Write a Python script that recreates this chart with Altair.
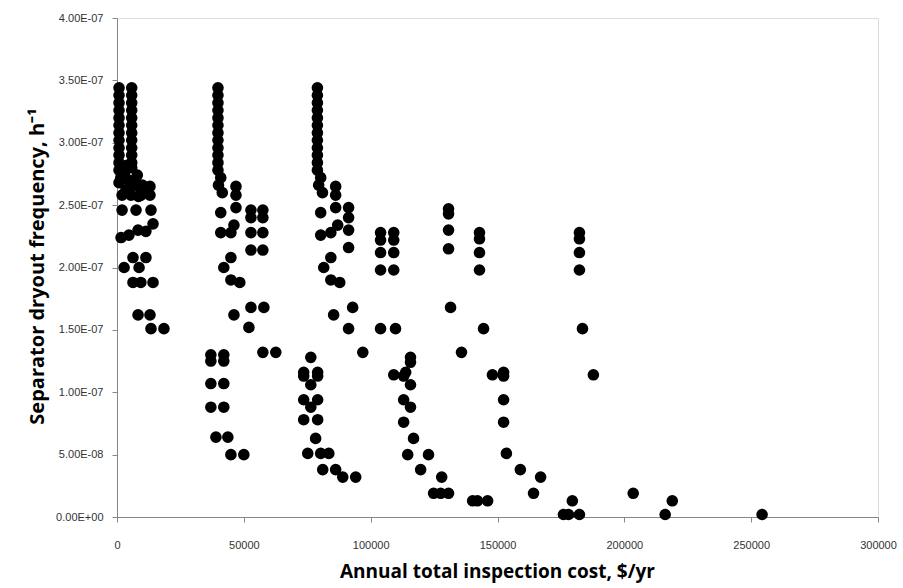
import altair as alt
import pandas as pd

# frequencies in units of 1e-7 per hour, costs in $/yr
cost_a = [800, 800, 800, 800, 800, 800, 800, 800, 800, 800, 800,
          5800, 5800, 5800, 5800, 5800, 5800, 5800, 5800, 5800, 5800, 5800,
          800, 3000, 5800, 8000, 800, 3500, 6500, 9000, 2000, 5500, 8500, 10500,
          1500, 4500, 7000, 10000, 4000, 9500,
          13000, 13000,
          2000, 7500, 13400,
          1600, 4700, 8300, 11400, 14200,
          2800, 6300, 8700, 11400,
          6300, 9400, 14200,
          8300, 13000,
          13400, 18500]
freq_a = [3.44, 3.38, 3.32, 3.26, 3.20, 3.14, 3.08, 3.02, 2.96, 2.90, 2.84,
          3.44, 3.38, 3.32, 3.26, 3.20, 3.14, 3.08, 3.02, 2.96, 2.90, 2.84,
          2.78, 2.76, 2.80, 2.74, 2.68, 2.62, 2.66, 2.64, 2.58, 2.58, 2.57, 2.60,
          2.72, 2.70, 2.70, 2.66, 2.82, 2.58,
          2.65, 2.58,
          2.46, 2.46, 2.46,
          2.24, 2.26, 2.30, 2.29, 2.35,
          2.00, 2.08, 2.00, 2.08,
          1.88, 1.88, 1.88,
          1.62, 1.62,
          1.51, 1.51]

cost_b = [39800, 39800, 39800, 39800, 39800, 39800, 39800, 39800, 39800, 39800, 39800,
          39800, 40900, 40000, 41500,
          46900, 46900,
          40900, 46900,
          52800, 57500, 52800, 57500, 52800, 57500, 52800, 57500,
          46100, 44900, 40900,
          44900, 42100,
          44900, 48400,
          52800, 57900,
          46100,
          52000,
          57500, 62600,
          37000, 42100, 37000, 42100,
          37000, 42100,
          37000, 42100,
          39000, 43700,
          44900, 50000]
freq_b = [3.44, 3.38, 3.32, 3.26, 3.20, 3.14, 3.08, 3.02, 2.96, 2.90, 2.84,
          2.78, 2.72, 2.66, 2.60,
          2.65, 2.58,
          2.44, 2.48,
          2.46, 2.46, 2.40, 2.40, 2.28, 2.28, 2.14, 2.14,
          2.34, 2.28, 2.28,
          2.08, 2.00,
          1.90, 1.88,
          1.68, 1.68,
          1.62,
          1.52,
          1.32, 1.32,
          1.30, 1.30, 1.25, 1.25,
          1.07, 1.07,
          0.88, 0.88,
          0.64, 0.64,
          0.50, 0.50]

cost_c = [79000, 79000, 79000, 79000, 79000, 79000, 79000, 79000, 79000, 79000, 79000,
          79000, 80300, 79500, 81000,
          86200, 86200,
          80300, 86200, 91300, 91300,
          87000, 84300, 80300, 91300, 91300,
          103900, 109100, 103900, 109100, 103900, 109100, 103900, 109100,
          84300, 81500,
          84300, 87800,
          92900,
          85400,
          91300,
          103900, 109800,
          96900,
          76400,
          73600, 79100, 73600, 79100,
          76400,
          73600, 79100, 76400,
          73600, 79100,
          78300,
          75200, 80300, 83500,
          81100, 86200, 89000, 94100]
freq_c = [3.44, 3.38, 3.32, 3.26, 3.20, 3.14, 3.08, 3.02, 2.96, 2.90, 2.84,
          2.78, 2.72, 2.66, 2.60,
          2.65, 2.58,
          2.44, 2.48, 2.48, 2.40,
          2.34, 2.28, 2.26, 2.30, 2.16,
          2.28, 2.28, 2.22, 2.22, 2.12, 2.12, 1.98, 1.98,
          2.08, 2.00,
          1.90, 1.88,
          1.68,
          1.62,
          1.51,
          1.51, 1.51,
          1.32,
          1.28,
          1.16, 1.16, 1.13, 1.13,
          1.06,
          0.94, 0.94, 0.88,
          0.78, 0.78,
          0.63,
          0.51, 0.51, 0.51,
          0.38, 0.38, 0.32, 0.32]

cost_d = [115700, 115700, 109100, 113800, 113000, 115700, 113000, 115700, 113000,
          116900, 114600, 122800, 119700, 128000, 124800, 127600, 130700]
freq_d = [1.28, 1.24, 1.14, 1.16, 1.13, 1.06, 0.94, 0.88, 0.76,
          0.63, 0.50, 0.50, 0.38, 0.32, 0.19, 0.19, 0.19]

cost_e = [130700, 130700, 130700, 130700, 131500, 135800,
          142900, 142900, 142900, 142900, 144500,
          148000, 152400, 152400, 152400, 152400, 153500,
          159000, 164200, 167000, 140200, 142100, 146100]
freq_e = [2.47, 2.43, 2.30, 2.15, 1.68, 1.32,
          2.28, 2.23, 2.12, 1.98, 1.51,
          1.14, 1.16, 1.13, 0.94, 0.76, 0.51,
          0.38, 0.19, 0.32, 0.13, 0.13, 0.13]

cost_f = [182300, 182300, 182300, 182300, 183500, 187800, 179500,
          176000, 178000, 182300, 203500, 218900, 216100, 254300]
freq_f = [2.28, 2.23, 2.12, 1.98, 1.51, 1.14, 0.13,
          0.02, 0.02, 0.02, 0.19, 0.13, 0.02, 0.02]

x_ticks = [0, 50000, 100000, 150000, 200000, 250000, 300000]
y_ticks = [0, 5e-8, 1e-7, 1.5e-7, 2e-7, 2.5e-7, 3e-7, 3.5e-7, 4e-7]

costs = cost_a + cost_b + cost_c + cost_d + cost_e + cost_f
freqs = freq_a + freq_b + freq_c + freq_d + freq_e + freq_f
df = pd.DataFrame({"cost": costs, "freq": [f * 1e-7 for f in freqs]})

y_label_expr = (
    "datum.value == 0 ? '0.00E+00' : "
    "format(datum.value / pow(10, floor(log(datum.value)/LN10 + 1e-9)), '.2f') + 'E-0' + "
    "(-floor(log(datum.value)/LN10 + 1e-9))"
)

title_font = "Liberation Sans Narrow, Open Sans"

chart = alt.Chart(df).mark_circle(size=135, color="#000000", opacity=1).encode(
    x=alt.X("cost:Q",
            scale=alt.Scale(domain=[0, 300000], nice=False, zero=True),
            axis=alt.Axis(values=x_ticks, format="d", grid=False,
                          title="Annual total inspection cost, $/yr",
                          titleFont=title_font, titleFontSize=19, titleFontWeight="bold",
                          titleColor="#000000", titleX=380, titleY=54,
                          titleBaseline="middle", titleAlign="center",
                          labelFont="Liberation Sans", labelFontSize=11, labelColor="#333333",
                          labelPadding=17, tickSize=5, tickColor="#868686",
                          domainColor="#868686", labelFlush=False)),
    y=alt.Y("freq:Q",
            scale=alt.Scale(domain=[0, 4e-7], nice=False),
            axis=alt.Axis(values=y_ticks, labelExpr=y_label_expr, grid=False,
                          title="Separator dryout frequency, h⁻¹",
                          titleFont=title_font, titleFontSize=20, titleFontWeight="bold",
                          titleColor="#000000", titleX=-80, titleY=248,
                          titleAngle=-90, titleBaseline="middle", titleAlign="center",
                          labelFont="Liberation Sans", labelFontSize=11, labelColor="#333333",
                          labelPadding=9, tickSize=5, tickColor="#868686",
                          domainColor="#868686", labelFlush=False)),
).properties(
    width=761, height=499,
    autosize=alt.AutoSizeParams(type="none"),
    padding={"left": 117, "top": 18, "right": 25, "bottom": 71},
).configure_view(stroke=None).configure(background="#ffffff")

chart.save("out.html", embed_options={"renderer": "svg", "actions": False})
